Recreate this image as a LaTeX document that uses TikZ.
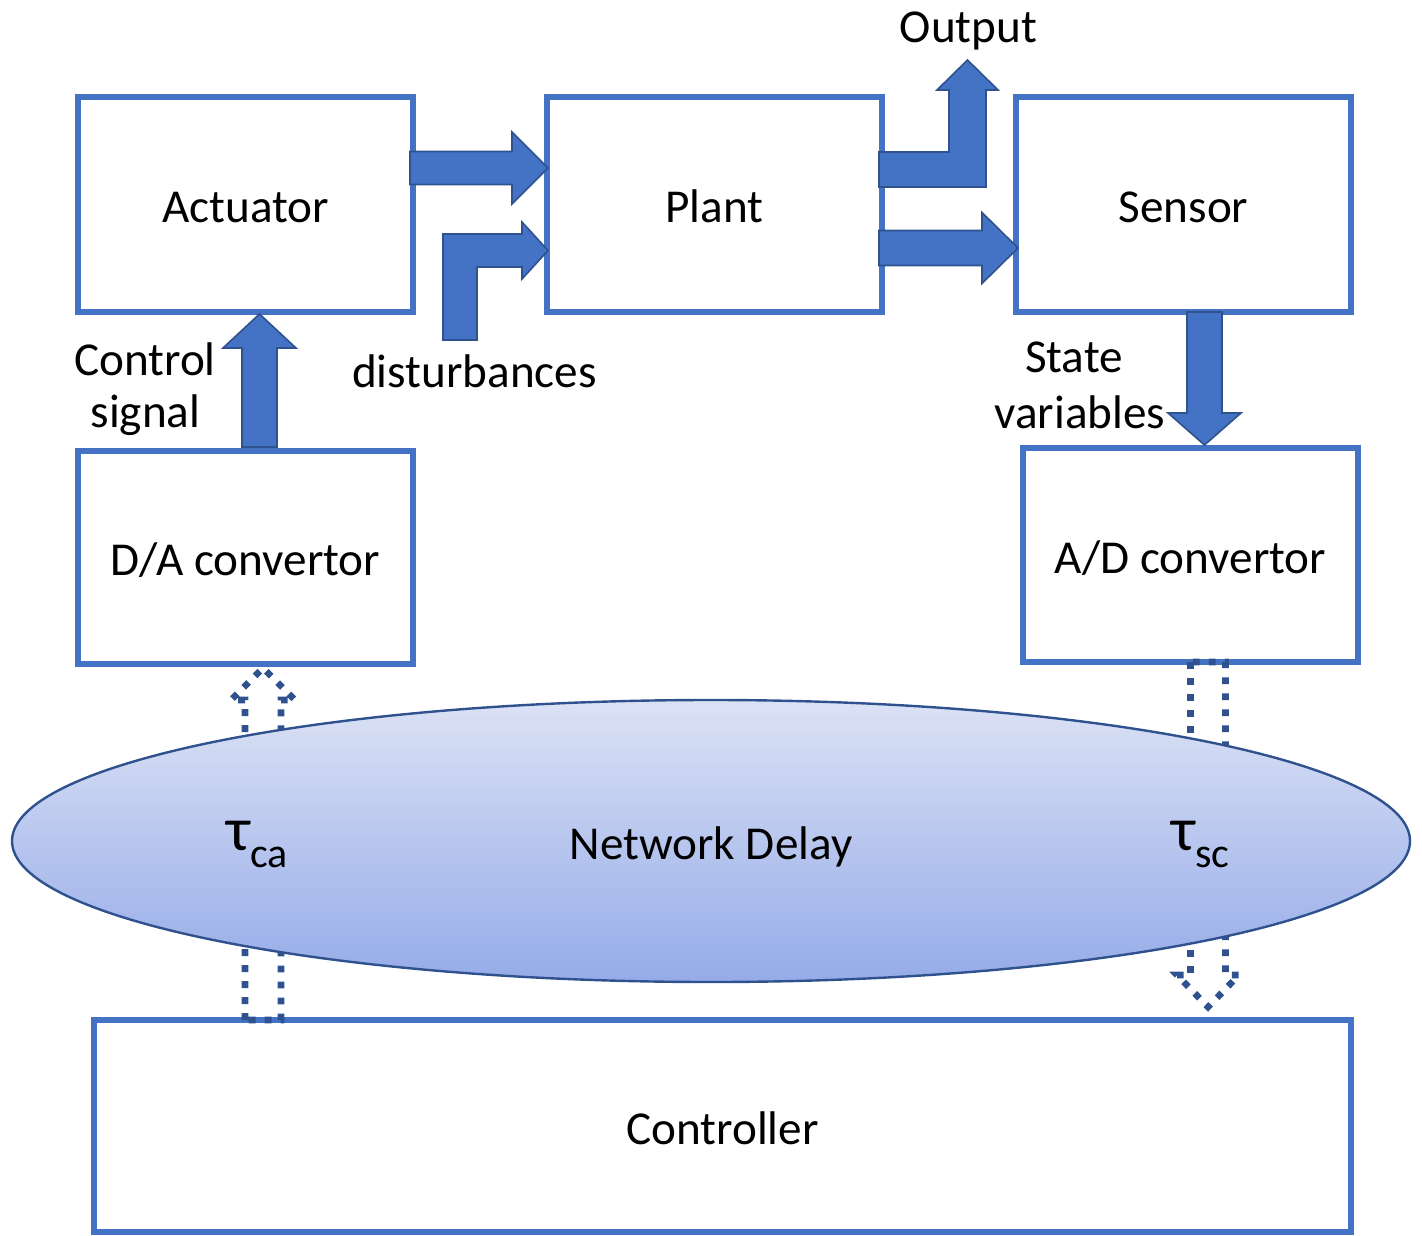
\documentclass[tikz,border=0pt]{standalone}
\usepackage{fontspec}
\setmainfont{Carlito}
\usetikzlibrary{shapes.geometric,calc}

\definecolor{boxblue}{HTML}{4472C4}
\definecolor{edgeblue}{HTML}{2F528F}
\definecolor{cloudtop}{HTML}{DCE2F5}
\definecolor{cloudbot}{HTML}{95ABE8}

% Block arrows: style, tail, tip, half body width, half head width, head length
\newcommand{\arrowRight}[6]{%
  \path[#1] let \p1=(#2), \p2=(#3) in
    (\x1,\y2+#4) -- (\x2-#6,\y2+#4) -- (\x2-#6,\y2+#5) -- (\p2) --
    (\x2-#6,\y2-#5) -- (\x2-#6,\y2-#4) -- (\x1,\y2-#4) -- cycle;}
\newcommand{\arrowUp}[6]{%
  \path[#1] let \p1=(#2), \p2=(#3) in
    (\x2-#4,\y1) -- (\x2-#4,\y2-#6) -- (\x2-#5,\y2-#6) -- (\p2) --
    (\x2+#5,\y2-#6) -- (\x2+#4,\y2-#6) -- (\x2+#4,\y1) -- cycle;}
\newcommand{\arrowDown}[6]{%
  \path[#1] let \p1=(#2), \p2=(#3) in
    (\x2-#4,\y1) -- (\x2-#4,\y2+#6) -- (\x2-#5,\y2+#6) -- (\p2) --
    (\x2+#5,\y2+#6) -- (\x2+#4,\y2+#6) -- (\x2+#4,\y1) -- cycle;}

\begin{document}
\begin{tikzpicture}[x=0.5pt,y=-0.5pt,
  font=\fontsize{23.6}{28}\selectfont,
  block/.style={draw=boxblue, line width=3pt, inner sep=0pt, outer sep=0pt,
                text height=18pt, text depth=0pt},
  solidarrow/.style={fill=boxblue, draw=edgeblue, line width=0.8pt, line join=miter},
  dotarrow/.style={draw=edgeblue, line width=3.3pt, dash pattern=on 3.4pt off 4.6pt},
  label/.style={anchor=base, inner sep=0pt},
  taulabel/.style={anchor=base west, inner sep=0pt}]

\useasboundingbox (0,0) rectangle (1422,1235);

% boxes
\node[block, minimum width=167.5pt, minimum height=107.5pt] (act) at (245.5,204.5) {Actuator};
\node[block, minimum width=167.5pt, minimum height=107.5pt] (plant) at (714.5,204.5) {Plant};
\node[block, minimum width=167.5pt, minimum height=107.5pt] (sensor) at (1183.5,204.5) {Sensor};
\node[block, minimum width=167.5pt, minimum height=106.5pt] (da) at (245.5,557.5) {D/A convertor};
\node[block, minimum width=167.5pt, minimum height=107pt] (ad) at (1190.5,555) {A/D convertor};
\node[block, minimum width=628.5pt, minimum height=106pt] (ctrl) at (722.5,1126) {Controller};

% network links (dotted block arrows, partly behind the cloud)
\coordinate (dl1) at (263,0 |- ctrl.north);
\coordinate (dl2) at ($(263,0 |- da.south)+(0,4)$);
\arrowUp{dotarrow}{dl1}{dl2}{9pt}{16pt}{16pt}
\coordinate (ul1) at (1208,0 |- ad.south);
\coordinate (ul2) at ($(1208,0 |- ctrl.north)+(0,-13)$);
\arrowDown{dotarrow}{ul1}{ul2}{8.75pt}{15.5pt}{16pt}

% network cloud
\node[ellipse, draw=edgeblue, line width=1.2pt, top color=cloudtop, bottom color=cloudbot,
      minimum width=699pt, minimum height=141pt, inner sep=0pt,
      text height=18pt, text depth=0pt] (net) at (711,841) {Network Delay};
\node[taulabel] (tca) at (226,850)
  {\fontsize{31}{31}\selectfont τ\raisebox{-8.5pt}{\fontsize{21}{21}\selectfont ca}};
\node[taulabel] (tsc) at (1171,850)
  {\fontsize{31}{31}\selectfont τ\raisebox{-8.5pt}{\fontsize{21}{21}\selectfont sc}};

% actuator -> plant
\coordinate (a1s) at ($(act.east |- 0,168)+(-3,0)$);
\coordinate (a1e) at ($(plant.west |- 0,168)+(1,0)$);
\arrowRight{solidarrow}{a1s}{a1e}{8.25pt}{18pt}{18pt}

% disturbances -> plant
\coordinate (d1s) at (460,340);
\coordinate (d1e) at ($(plant.west |- 0,250.5)+(1,0)$);
\path[solidarrow] let \p1=(d1s), \p2=(d1e) in
  (\x1-8.5pt,\y1) -- (\x1-8.5pt,\y2+8.25pt) -- (\x2-13pt,\y2+8.25pt) -- (\x2-13pt,\y2+14.25pt) --
  (\p2) -- (\x2-13pt,\y2-14.25pt) -- (\x2-13pt,\y2-8.25pt) -- (\x1+8.5pt,\y2-8.25pt) --
  (\x1+8.5pt,\y1) -- cycle;

% plant -> output
\coordinate (o1s) at ($(plant.east |- 0,169.5)+(-3,0)$);
\coordinate (o1e) at (967.5,60);
\path[solidarrow] let \p1=(o1s), \p2=(o1e) in
  (\x1,\y1+8.75pt) -- (\x2-9.25pt,\y1+8.75pt) -- (\x2-9.25pt,\y2-15pt) -- (\x2-15.25pt,\y2-15pt) --
  (\p2) -- (\x2+15.25pt,\y2-15pt) -- (\x2+9.25pt,\y2-15pt) -- (\x2+9.25pt,\y1-8.75pt) --
  (\x1,\y1-8.75pt) -- cycle;

% plant -> sensor
\coordinate (p2s) at ($(plant.east |- 0,248)+(-3,0)$);
\coordinate (p2e) at ($(sensor.west |- 0,248)+(2,0)$);
\arrowRight{solidarrow}{p2s}{p2e}{8.75pt}{17.75pt}{18pt}

% sensor -> A/D
\coordinate (s1s) at (1204.5,0 |- sensor.south);
\coordinate (s1e) at ($(1204.5,0 |- ad.north)+(0,-3)$);
\arrowDown{solidarrow}{s1s}{s1e}{8.75pt}{18.25pt}{16pt}

% D/A -> actuator
\coordinate (c1s) at ($(259.5,0 |- da.north)+(0,-4)$);
\coordinate (c1e) at ($(259.5,0 |- act.south)+(0,2)$);
\arrowUp{solidarrow}{c1s}{c1e}{8.75pt}{18.25pt}{17pt}

% labels
\node[label] (outlbl) at (968.5,43) {Output};
\node[label] (cs1) at (145,375) {Control};
\node[label] (cs2) at (145.5,427) {signal};
\node[label] (dist) at (474.5,387) {disturbances};
\node[label] (sv1) at (1074,372) {State};
\node[label] (sv2) at (1080,428) {variables};
\end{tikzpicture}
\end{document}
